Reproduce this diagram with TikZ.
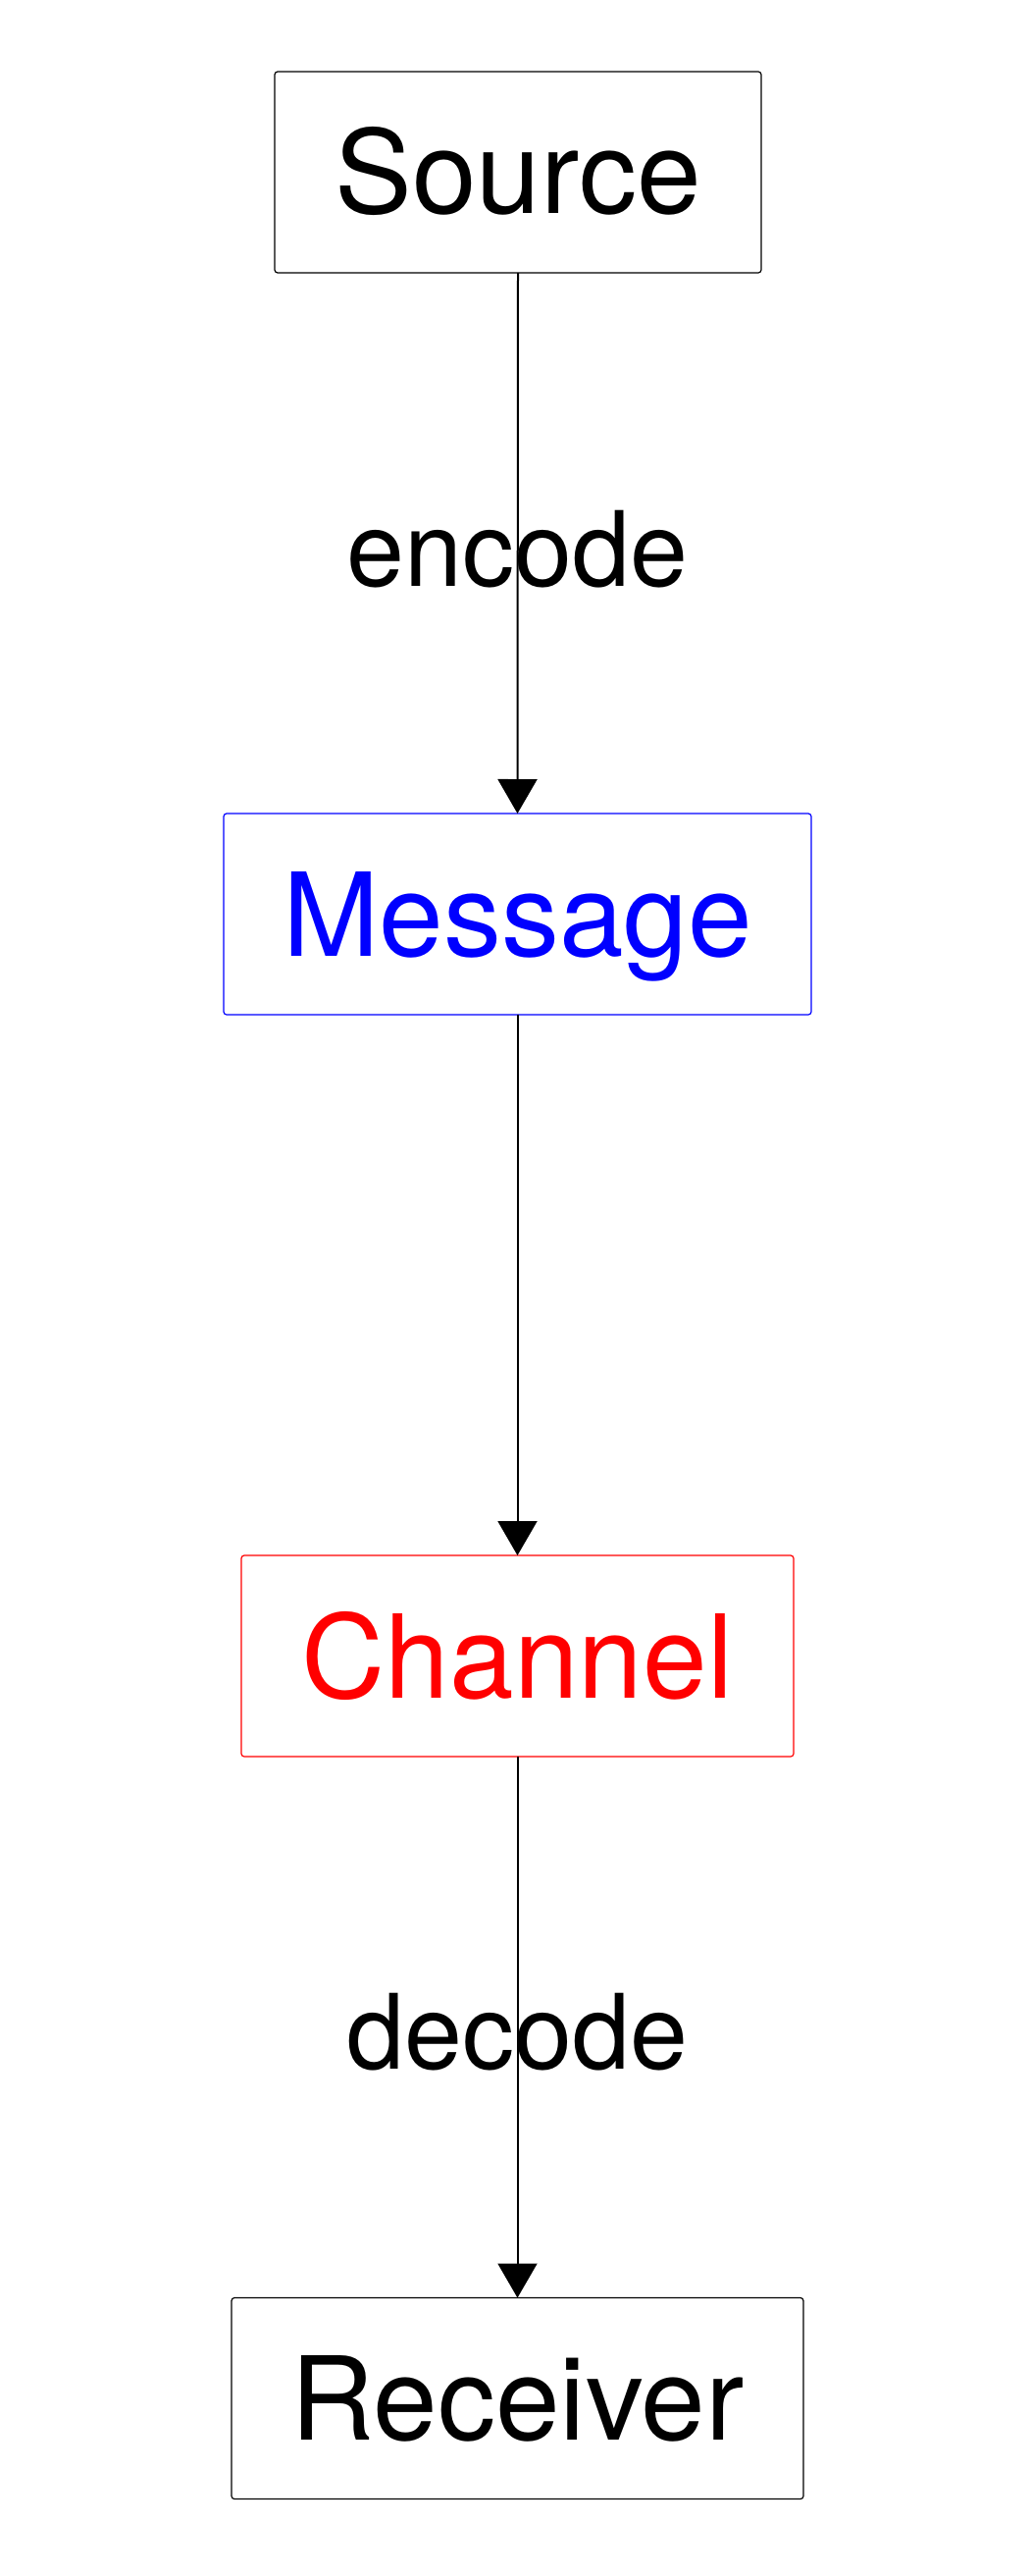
\documentclass[tikz,border=0pt]{standalone}
\usepackage{fontspec}
\setmainfont{TeX Gyre Heros}
\usetikzlibrary{arrows.meta}
\tikzset{
  box/.style={draw, line width=1.2pt, rounded corners=3pt, inner sep=0pt, outer sep=0pt,
    minimum height=205pt, text height=85pt, text depth=0pt,
    font=\fontsize{118}{142}\selectfont},
  edgelabel/.style={anchor=base, inner sep=0pt, font=\fontsize{106}{128}\selectfont},
  conn/.style={line width=2pt, -{Triangle[width=40pt,length=35pt]}}
}
\begin{document}
\begin{tikzpicture}[x=1pt,y=1pt]
\useasboundingbox (0,0) rectangle (1050,-2625);
\node[box, minimum width=496pt] (src) at (528,-175.5) {Source};
\node[box, minimum width=599pt, draw=blue, text=blue] (msg) at (527.5,-931.5) {Message};
\node[box, minimum width=563pt, draw=red, text=red] (chn) at (527.5,-1687.5) {Channel};
\node[box, minimum width=583pt] (rcv) at (527.5,-2444) {Receiver};
\draw[conn] (src.south) -- (msg.north);
\draw[conn] (msg.south) -- (chn.north);
\draw[conn] (chn.south) -- (rcv.north);
\node[edgelabel] (enc) at (527.5,-597) {encode};
\node[edgelabel] (dec) at (527.5,-2108) {decode};
\end{tikzpicture}
\end{document}
